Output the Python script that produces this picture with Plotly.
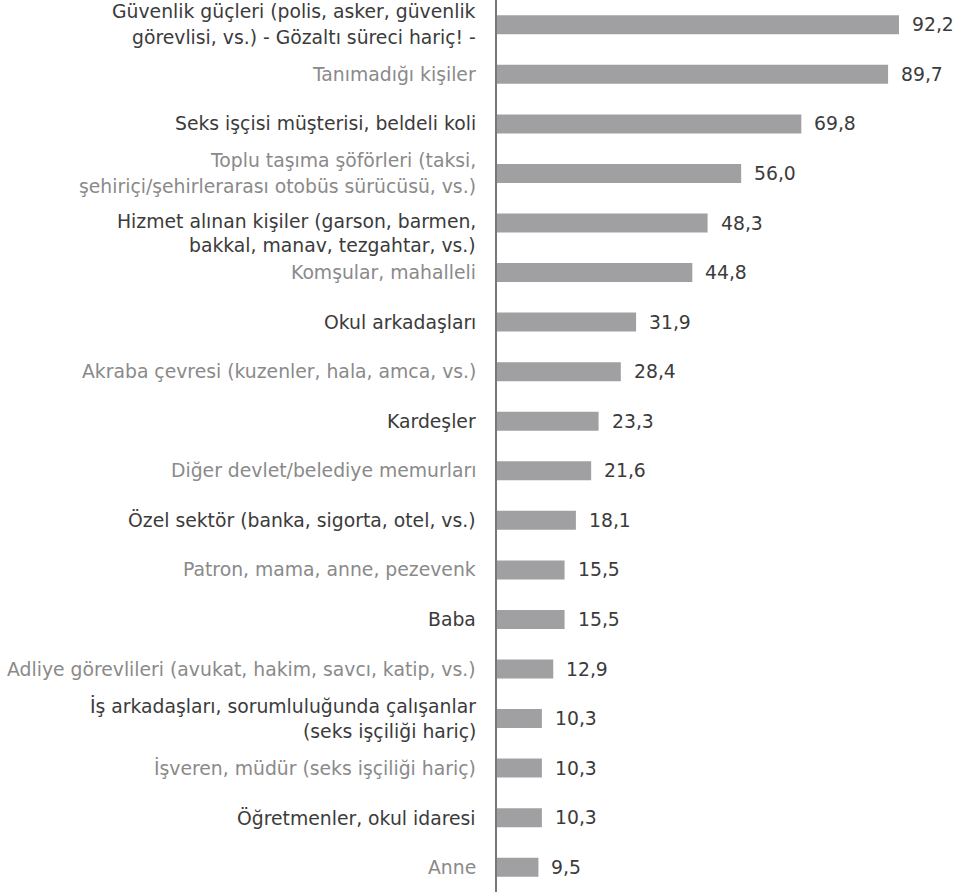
import plotly.graph_objects as go

categories = [
    "Güvenlik güçleri (polis, asker, güvenlik\ngörevlisi, vs.) - Gözaltı süreci hariç! -",
    "Tanımadığı kişiler",
    "Seks işçisi müşterisi, beldeli koli",
    "Toplu taşıma şöförleri (taksi,\nşehiriçi/şehirlerarası otobüs sürücüsü, vs.)",
    "Hizmet alınan kişiler (garson, barmen,\nbakkal, manav, tezgahtar, vs.)",
    "Komşular, mahalleli",
    "Okul arkadaşları",
    "Akraba çevresi (kuzenler, hala, amca, vs.)",
    "Kardeşler",
    "Diğer devlet/belediye memurları",
    "Özel sektör (banka, sigorta, otel, vs.)",
    "Patron, mama, anne, pezevenk",
    "Baba",
    "Adliye görevlileri (avukat, hakim, savcı, katip, vs.)",
    "İş arkadaşları, sorumluluğunda çalışanlar\n(seks işçiliği hariç)",
    "İşveren, müdür (seks işçiliği hariç)",
    "Öğretmenler, okul idaresi",
    "Anne",
]
values = [92.2, 89.7, 69.8, 56.0, 48.3, 44.8, 31.9, 28.4, 23.3, 21.6, 18.1, 15.5, 15.5, 12.9, 10.3, 10.3, 10.3, 9.5]

DARK = "#3b3b3b"
LIGHT = "#8a8a8a"
FONT = "DejaVu Sans"
FS = 18.8

# per-label vertical nudges / line spacing seen in the original layout
label_nudge = {4: -10}
line_gap = {4: 24}

fig = go.Figure()
fig.add_trace(go.Bar(
    x=values,
    y=list(range(len(categories))),
    orientation="h",
    marker=dict(color="#a0a0a3", line=dict(width=0)),
    hoverinfo="skip",
))

annotations = []
for i, (cat, v) in enumerate(zip(categories, values)):
    color = DARK if i % 2 == 0 else LIGHT
    lines = cat.split("\n")
    n = len(lines)
    gap = line_gap.get(i, 26)
    for j, line in enumerate(lines):
        annotations.append(dict(
            x=0, y=i, xref="x", yref="y",
            text=line, showarrow=False,
            xanchor="right", yanchor="middle",
            xshift=-19, yshift=((n - 1) / 2 - j) * gap + label_nudge.get(i, 0),
            font=dict(family=FONT, size=FS, color=color),
        ))
    annotations.append(dict(
        x=v, y=i, xref="x", yref="y",
        text=f"{v:.1f}".replace(".", ","), showarrow=False,
        xanchor="left", yanchor="middle", xshift=11,
        font=dict(family=FONT, size=FS, color=DARK),
    ))

fig.update_layout(
    width=967, height=892,
    margin=dict(l=497, r=0, t=0, b=0),
    paper_bgcolor="white", plot_bgcolor="white",
    showlegend=False,
    bargap=0.617,
    annotations=annotations,
    xaxis=dict(range=[0, 107.8], visible=False, fixedrange=True),
    yaxis=dict(range=[len(categories) - 0.5, -0.5], showticklabels=False,
               showgrid=False, zeroline=False, showline=True,
               linecolor="#777777", linewidth=2, ticks="", fixedrange=True),
)

fig.write_html(
    "out.html",
    config={"displayModeBar": False, "staticPlot": True},
    post_script="document.body.style.margin='0';document.documentElement.style.overflow='hidden';",
)
